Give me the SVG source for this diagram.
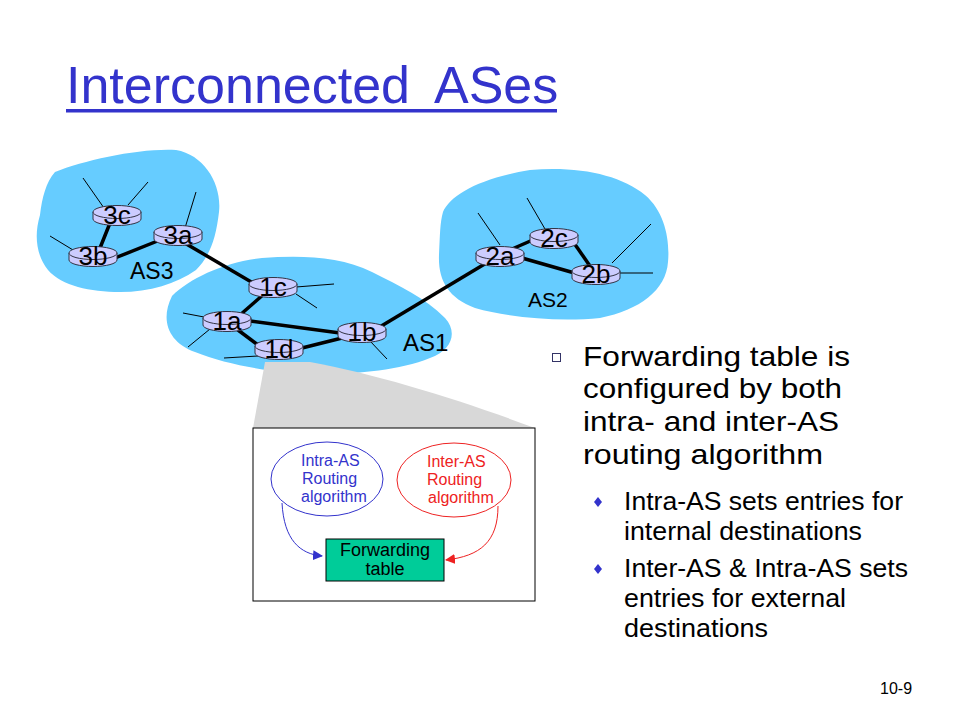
<svg xmlns="http://www.w3.org/2000/svg" width="960" height="720" viewBox="0 0 960 720">
<style>
text{font-family:"Liberation Sans",Arial,sans-serif}
.blob{fill:#66CCFF;stroke:none}
.link{stroke:#000;stroke-width:3.5;fill:none}
.host{stroke:#000;stroke-width:1;fill:none}
.rt{fill:#CCCCFF;stroke:#333344;stroke-width:1}
.rl{font-size:26px;fill:#000;text-anchor:middle}
.asl{fill:#000}
.body{font-size:28.5px;fill:#000}
.sub{font-size:25px;fill:#000}
.blue{font-size:16px;fill:#3333CC}
.red{font-size:16px;fill:#EE2222}
</style>
<defs>
<g id="router">
<path class="rt" d="M-24,-3 L-24,4 A24,6.5 0 0 0 24,4 L24,-3"/>
<ellipse class="rt" cx="0" cy="-3" rx="24" ry="6.5"/>
</g>
<marker id="ab" markerWidth="10" markerHeight="10" refX="9" refY="5" orient="auto" markerUnits="userSpaceOnUse"><path d="M0,0 L10,5 L0,10 Z" fill="#3333CC"/></marker>
<marker id="ar" markerWidth="10" markerHeight="10" refX="9" refY="5" orient="auto" markerUnits="userSpaceOnUse"><path d="M0,0 L10,5 L0,10 Z" fill="#EE2222"/></marker>
</defs>
<rect width="960" height="720" fill="#fff"/>
<g id="title">
<text y="103" font-size="52" fill="#3333CC"><tspan x="66">Interconnected</tspan><tspan x="434">ASes</tspan></text>
<rect x="66" y="109" width="491" height="3.5" fill="#3333CC"/>
</g>
<g id="as3-cloud"><path class="blob" d="M55,172 C85,160 140,148 176,150 C205,155 222,185 219,212 C216,238 210,256 196,270 C176,284 150,292 120,292 C90,292 62,286 48,270 C36,255 34,235 40,215 C42,198 46,182 55,172 Z"/></g>
<g id="as1-cloud"><path class="blob" d="M172,296 C190,278 225,262 262,258 C300,255 340,256 372,272 C400,286 425,298 445,318 C458,332 452,350 430,358 C400,370 360,374 320,374 C280,374 230,366 195,352 C168,342 160,320 172,296 Z"/></g>
<g id="as2-cloud"><path class="blob" d="M443,212 C450,195 480,178 530,170 C580,166 620,175 645,195 C665,212 670,240 668,262 C666,290 640,310 600,318 C560,322 510,318 475,308 C448,298 438,280 439,255 C440,235 440,222 443,212 Z"/></g>
<g id="zoom-shade"><path d="M265,362 L310,362 C380,375 460,400 535,428 L253,428 Z" fill="#D8D8D8"/></g>
<g id="connectors">
<line class="link" x1="110" y1="223" x2="100" y2="248"/>
<line class="link" x1="115" y1="258" x2="160" y2="240"/>
<line class="link" x1="183" y1="242" x2="260" y2="287"/>
<line class="link" x1="264" y1="294" x2="240" y2="315"/>
<line class="link" x1="250" y1="321" x2="340" y2="333"/>
<line class="link" x1="234" y1="327" x2="262" y2="348"/>
<line class="link" x1="298" y1="349" x2="342" y2="338"/>
<line class="link" x1="378" y1="328" x2="488" y2="262"/>
<line class="link" x1="512" y1="249" x2="535" y2="239"/>
<line class="link" x1="522" y1="258" x2="578" y2="274"/>
<line class="link" x1="574" y1="243" x2="590" y2="266"/>
<line class="host" x1="83" y1="178" x2="104" y2="208"/>
<line class="host" x1="148" y1="182" x2="128" y2="205"/>
<line class="host" x1="50" y1="236" x2="78" y2="253"/>
<line class="host" x1="196" y1="192" x2="185" y2="228"/>
<line class="host" x1="296" y1="287" x2="334" y2="284"/>
<line class="host" x1="296" y1="294" x2="317" y2="308"/>
<line class="host" x1="183" y1="313" x2="204" y2="317"/>
<line class="host" x1="188" y1="347" x2="210" y2="329"/>
<line class="host" x1="224" y1="358" x2="258" y2="356"/>
<line class="host" x1="370" y1="341" x2="387" y2="359"/>
<line class="host" x1="478" y1="213" x2="500" y2="245"/>
<line class="host" x1="527" y1="198" x2="545" y2="229"/>
<line class="host" x1="612" y1="263" x2="651" y2="224"/>
<line class="host" x1="620" y1="273" x2="653" y2="273"/>
</g>
<g id="r3c"><use href="#router" x="117" y="215"/><text class="rl" x="117" y="224">3c</text></g>
<g id="r3a"><use href="#router" x="178" y="235"/><text class="rl" x="178" y="244">3a</text></g>
<g id="r3b"><use href="#router" x="93" y="256"/><text class="rl" x="93" y="265">3b</text></g>
<g id="r1c"><use href="#router" x="273" y="287"/><text class="rl" x="273" y="296">1c</text></g>
<g id="r1a"><use href="#router" x="227" y="321"/><text class="rl" x="227" y="330">1a</text></g>
<g id="r1b"><use href="#router" x="362" y="332"/><text class="rl" x="362" y="341">1b</text></g>
<g id="r1d"><use href="#router" x="279" y="349"/><text class="rl" x="279" y="358">1d</text></g>
<g id="r2a"><use href="#router" x="500" y="256"/><text class="rl" x="500" y="265">2a</text></g>
<g id="r2c"><use href="#router" x="554" y="238"/><text class="rl" x="554" y="247">2c</text></g>
<g id="r2b"><use href="#router" x="596" y="274"/><text class="rl" x="596" y="283">2b</text></g>
<g id="as-labels">
<text class="asl" x="130" y="279" font-size="23">AS3</text>
<text class="asl" x="403" y="351" font-size="24">AS1</text>
<text class="asl" x="528" y="307" font-size="21">AS2</text>
</g>
<g id="detail-box">
<rect x="253" y="428" width="282" height="173" fill="#fff" stroke="#000" stroke-width="1"/>
</g>
<g id="intra-as">
<ellipse cx="327" cy="479" rx="56" ry="37" fill="none" stroke="#3333CC" stroke-width="1"/>
<text class="blue" x="301" y="466">Intra-AS</text>
<text class="blue" x="302" y="484">Routing</text>
<text class="blue" x="301" y="502">algorithm</text>
</g>
<g id="inter-as">
<ellipse cx="454" cy="480" rx="57" ry="37" fill="none" stroke="#EE2222" stroke-width="1"/>
<text class="red" x="427" y="467">Inter-AS</text>
<text class="red" x="427" y="485">Routing</text>
<text class="red" x="428" y="503">algorithm</text>
</g>
<g id="fwd-table">
<rect x="326" y="539" width="118" height="42" fill="#00CC99" stroke="#000" stroke-width="1"/>
<text x="385" y="556" font-size="18" text-anchor="middle" fill="#000">Forwarding</text>
<text x="385" y="575" font-size="18" text-anchor="middle" fill="#000">table</text>
</g>
<g id="arrows">
<path d="M282,503 C284,540 300,554 322,556" fill="none" stroke="#3333CC" stroke-width="1" marker-end="url(#ab)"/>
<path d="M498,506 C498,542 480,556 446,560" fill="none" stroke="#EE2222" stroke-width="1" marker-end="url(#ar)"/>
</g>
<g id="bullets">
<rect x="552.5" y="353.5" width="8" height="8" fill="none" stroke="#333366" stroke-width="1"/>
<text class="body" x="583" y="366" textLength="267" lengthAdjust="spacingAndGlyphs">Forwarding table is</text>
<text class="body" x="583" y="398" textLength="259" lengthAdjust="spacingAndGlyphs">configured by both</text>
<text class="body" x="583" y="431" textLength="256" lengthAdjust="spacingAndGlyphs">intra- and inter-AS</text>
<text class="body" x="583" y="464" textLength="240" lengthAdjust="spacingAndGlyphs">routing algorithm</text>
<path d="M598,497 L602,502 L598,507 L594,502 Z" fill="#3333CC"/>
<text class="sub" x="624" y="510" textLength="279" lengthAdjust="spacingAndGlyphs">Intra-AS sets entries for</text>
<text class="sub" x="624" y="540" textLength="238" lengthAdjust="spacingAndGlyphs">internal destinations</text>
<path d="M598,564 L602,569 L598,574 L594,569 Z" fill="#3333CC"/>
<text class="sub" x="624" y="577" textLength="284" lengthAdjust="spacingAndGlyphs">Inter-AS &amp; Intra-AS sets</text>
<text class="sub" x="624" y="607" textLength="222" lengthAdjust="spacingAndGlyphs">entries for external</text>
<text class="sub" x="624" y="637" textLength="144" lengthAdjust="spacingAndGlyphs">destinations</text>
</g>
<g id="page"><text x="880" y="694" font-size="16" fill="#000">10-9</text></g>
</svg>
